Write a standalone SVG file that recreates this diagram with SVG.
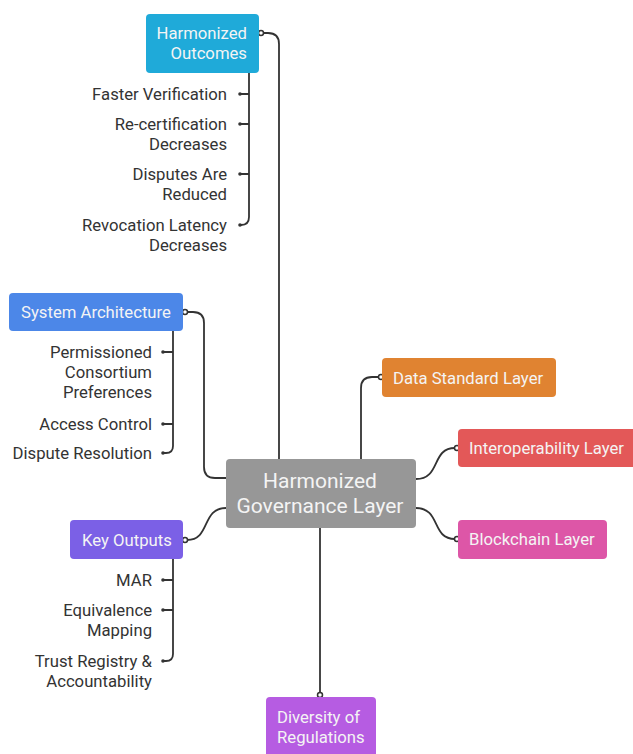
<svg xmlns="http://www.w3.org/2000/svg" width="633" height="754" viewBox="0 0 633 754">
<style>
.bg{fill:#ffffff}
.box{stroke:none}
.nt{font-family:Roboto,"Liberation Sans",sans-serif;font-size:16.7px;fill:#f4f4f4}
.ct{font-family:Roboto,"Liberation Sans",sans-serif;font-size:21px;fill:#f4f4f4;text-anchor:middle}
.lt{font-family:Roboto,"Liberation Sans",sans-serif;font-size:16.7px;fill:#333333;text-anchor:end}
.ln{fill:none;stroke:#333333;stroke-width:1.8}
.od{fill:#ffffff;stroke:#333333;stroke-width:1.5}
.sd{fill:#333333}
</style>
<rect class="bg" x="0" y="0" width="633" height="754"/>
<g id="connectors">
<path class="ln" d="M279,459 V44 Q279,33 268,33 H263"/>
<path class="ln" d="M249,73 V217 Q249,225 241,225"/>
<path class="ln" d="M241,94 H249 M241,124 H249 M241,174 H249"/>
<path class="ln" d="M226,478 H215 Q204,478 204,467 V323 Q204,312 193,312 H187"/>
<path class="ln" d="M173,331 V446 Q173,453 166,453 H164"/>
<path class="ln" d="M164,352 H173 M164,424 H173"/>
<path class="ln" d="M361,459 V388 Q361,377 372,377 H379"/>
<path class="ln" d="M416,479 C441,479 431,448 455,448"/>
<path class="ln" d="M416,508 C441,508 431,539 455,539"/>
<path class="ln" d="M226,508 C201,508 211,540 187,540"/>
<path class="ln" d="M173,559 V654 Q173,661 166,661 H164"/>
<path class="ln" d="M164,580 H173 M164,610 H173"/>
<path class="ln" d="M320,528 V693"/>
<circle class="od" cx="261" cy="33" r="2.5"/>
<circle class="od" cx="185" cy="312" r="2.5"/>
<circle class="od" cx="381" cy="377" r="2.5"/>
<circle class="od" cx="457" cy="448" r="2.5"/>
<circle class="od" cx="457" cy="539" r="2.5"/>
<circle class="od" cx="185" cy="540" r="2.5"/>
<circle class="od" cx="320" cy="695" r="2.5"/>
<circle class="sd" cx="240" cy="94" r="1.8"/>
<circle class="sd" cx="240" cy="124" r="1.8"/>
<circle class="sd" cx="240" cy="174" r="1.8"/>
<circle class="sd" cx="240" cy="225" r="1.8"/>
<circle class="sd" cx="163" cy="352" r="1.8"/>
<circle class="sd" cx="163" cy="424" r="1.8"/>
<circle class="sd" cx="163" cy="453" r="1.8"/>
<circle class="sd" cx="163" cy="580" r="1.8"/>
<circle class="sd" cx="163" cy="610" r="1.8"/>
<circle class="sd" cx="163" cy="661" r="1.8"/>
</g>
<g id="central">
<rect class="box" x="226" y="459" width="190" height="69" rx="4" fill="#979797"/>
<text class="ct" x="320" y="488">Harmonized</text>
<text class="ct" x="320" y="513">Governance Layer</text>
</g>
<g id="harmonized-outcomes">
<rect class="box" x="146" y="14" width="113" height="59" rx="4" fill="#1FAAD9"/>
<text class="nt" x="247" y="39" text-anchor="end">Harmonized</text>
<text class="nt" x="247" y="59" text-anchor="end">Outcomes</text>
</g>
<g id="ho-faster"><text class="lt" x="227" y="100">Faster Verification</text></g>
<g id="ho-recert"><text class="lt" x="227" y="130">Re-certification</text><text class="lt" x="227" y="150">Decreases</text></g>
<g id="ho-disputes"><text class="lt" x="227" y="180">Disputes Are</text><text class="lt" x="227" y="200">Reduced</text></g>
<g id="ho-revocation"><text class="lt" x="227" y="231">Revocation Latency</text><text class="lt" x="227" y="251">Decreases</text></g>
<g id="system-architecture">
<rect class="box" x="9" y="293" width="174" height="38" rx="4" fill="#4C87E8"/>
<text class="nt" x="21" y="318">System Architecture</text>
</g>
<g id="sa-permissioned"><text class="lt" x="152" y="358">Permissioned</text><text class="lt" x="152" y="378">Consortium</text><text class="lt" x="152" y="398">Preferences</text></g>
<g id="sa-access"><text class="lt" x="152" y="430">Access Control</text></g>
<g id="sa-dispute"><text class="lt" x="152" y="459">Dispute Resolution</text></g>
<g id="key-outputs">
<rect class="box" x="70" y="520" width="113" height="39" rx="4" fill="#7B60E6"/>
<text class="nt" x="82" y="546">Key Outputs</text>
</g>
<g id="ko-mar"><text class="lt" x="152" y="586">MAR</text></g>
<g id="ko-equivalence"><text class="lt" x="152" y="616">Equivalence</text><text class="lt" x="152" y="636">Mapping</text></g>
<g id="ko-trust"><text class="lt" x="152" y="667">Trust Registry &amp;</text><text class="lt" x="152" y="687">Accountability</text></g>
<g id="data-standard">
<rect class="box" x="382" y="358" width="174" height="39" rx="4" fill="#E08331"/>
<text class="nt" x="393" y="384">Data Standard Layer</text>
</g>
<g id="interoperability">
<rect class="box" x="458" y="429" width="180" height="38" rx="4" fill="#E35858"/>
<text class="nt" x="469" y="454">Interoperability Layer</text>
</g>
<g id="blockchain">
<rect class="box" x="458" y="520" width="149" height="39" rx="4" fill="#DD56A7"/>
<text class="nt" x="469" y="545">Blockchain Layer</text>
</g>
<g id="diversity">
<rect class="box" x="266" y="697" width="110" height="64" rx="4" fill="#B65CE2"/>
<text class="nt" x="277" y="723">Diversity of</text>
<text class="nt" x="277" y="743">Regulations</text>
</g>
</svg>
